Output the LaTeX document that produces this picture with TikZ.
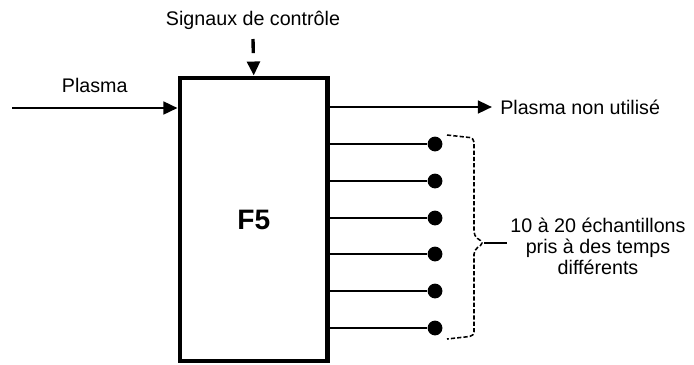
\documentclass[tikz,border=0pt]{standalone}
\usepackage{fontspec}
\setmainfont{Liberation Sans}
\usepackage{tikz}
\usetikzlibrary{positioning,arrows.meta}

\tikzset{
  wire/.style={line width=1.8pt},
  flow/.style={wire,-{Triangle[length=10pt,width=9pt]}},
  txt/.style={font=\fontsize{14}{15}\selectfont,inner sep=0pt},
  sample/.style={circle,fill,minimum size=0.37cm,inner sep=0pt},
}

\begin{document}
\begin{tikzpicture}[x=0.025cm,y=-0.025cm]
  \useasboundingbox (0,0) rectangle (694,364);

  % the F5 block
  \node[draw,line width=3.4pt,minimum width=3.69cm,minimum height=7.075cm,
        font=\bfseries\fontsize{20}{22}\selectfont] (f5) at (253.75,219.5) {F5};

  % control signals
  \node[txt] (ctrl) at (253,20) {Signaux de contrôle};
  \coordinate (cin) at (253,39);
  \draw[flow,line width=2.4pt,dash pattern=on 10pt off 20pt] (cin) -- (f5.north);

  % plasma in
  \coordinate (pin) at (12,108);
  \draw[flow] (pin) -- node[txt,above=0.36cm,name=plasma] {Plasma} (pin -| f5.west);

  % plasma out
  \node[txt,anchor=west] (unused) at (500,107) {Plasma non utilisé};
  \draw[flow] (unused.west -| f5.east) -- ([xshift=-0.2cm]unused.west);

  % samples
  \foreach \y [count=\i] in {144,181,218,254,291,328} {
    \node[sample] (s\i) at (435,\y) {};
    \draw[wire] (s\i -| f5.east) -- (s\i);
  }

  % bracket and label
  \draw[line width=1.1pt,dash pattern=on 3pt off 1.5pt,rounded corners=3pt]
    (447,135) -- (474,138) -- (474,236) -- (484,243) -- (474,250) -- (474,336) -- (447,339);
  \coordinate (tip) at (484,243);
  \node[txt,align=center] (lbl) at (598,246) {10 à 20 échantillons\\pris à des temps\\différents};
  \draw[line width=1.1pt] (tip) -- ([xshift=-0.08cm]tip -| lbl.west);
\end{tikzpicture}
\end{document}
